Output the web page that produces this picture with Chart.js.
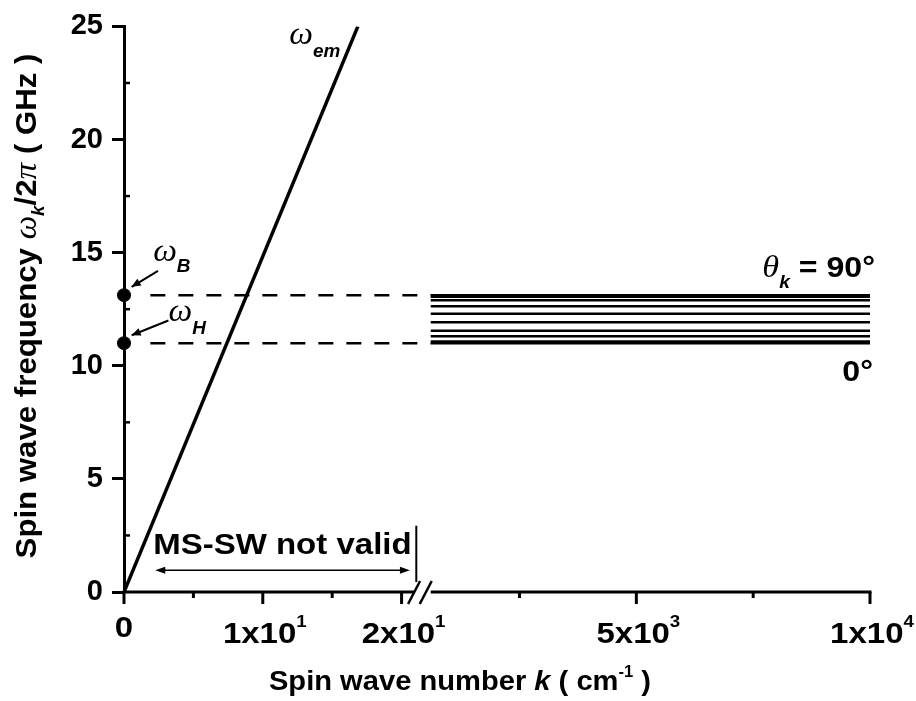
<!DOCTYPE html>
<html>
<head>
<meta charset="utf-8">
<script src="https://cdn.jsdelivr.net/npm/chart.js@4.4.1/dist/chart.umd.min.js"></script>
<style>
  html, body { margin: 0; padding: 0; background: #fff; }
  #wrap { width: 916px; height: 701px; }
</style>
</head>
<body>
<div id="wrap"><canvas id="chart" width="916" height="701"></canvas></div>
<script>
// ---- data ----
const emK = [0, 16.85];          // omega_em line, k (cm^-1)
const emF = [0, 25];             // GHz
const fB = 13.12;                // omega_B
const fH = 11.0;                 // omega_H
const guideK = [1.9, 600];       // dashed guides: start on left segment, end at right segment start
const bandK = [600, 10000];      // MS spin wave band, k range on right segment
const bandF = [11.0, 11.07, 11.3, 11.55, 11.92, 12.3, 12.63, 12.9, 13.05, 13.12]; // theta_k = 0..90 deg
const yTicks = [0, 5, 10, 15, 20, 25];
const yMinor = [2.5, 7.5, 12.5, 17.5, 22.5];
const xTicksLeft = [0, 10, 20];
const xLabelsLeft = [['0', ''], ['1x10', '1'], ['2x10', '1']];
const xMinorLeft = [5, 15];
const xTicksRight = [5000, 10000];
const xLabelsRight = [['5x10', '3'], ['1x10', '4']];
const xMinorRight = [2500, 7500];

// ---- broken x axis: left part linear in k, right part compressed ----
const LEFT_END = 20.9;
const RIGHT_START = 600;
const RIGHT_U0 = 22.1;
const RIGHT_SCALE = 0.003367;
const U_MAX = RIGHT_U0 + (10000 - RIGHT_START) * RIGHT_SCALE;
function toU(k, seg) {
  return seg === 'R' ? RIGHT_U0 + (k - RIGHT_START) * RIGHT_SCALE : k;
}

const SANS = '"Liberation Sans", Arial, sans-serif';
const SERIF = '"Liberation Serif", "Times New Roman", serif';
const B = s => 'bold ' + s + 'px ' + SANS;
const BI = s => 'italic bold ' + s + 'px ' + SANS;
const SI = s => 'italic ' + s + 'px ' + SERIF;

// draw a run of text pieces [text, font, dy]
function rich(ctx, parts, x, y, align, sx) {
  let w = 0;
  parts.forEach(p => { ctx.font = p[1]; w += ctx.measureText(p[0]).width; });
  let cx = align === 'center' ? -w / 2 : (align === 'right' ? -w : 0);
  ctx.save();
  ctx.translate(x, y);
  ctx.scale(sx || 1, 1);
  ctx.textAlign = 'left';
  ctx.textBaseline = 'alphabetic';
  ctx.fillStyle = '#000';
  parts.forEach(p => {
    ctx.font = p[1];
    ctx.fillText(p[0], cx, p[2] || 0);
    cx += ctx.measureText(p[0]).width;
  });
  ctx.restore();
}

function line(ctx, x1, y1, x2, y2, w) {
  ctx.lineWidth = w;
  ctx.beginPath(); ctx.moveTo(x1, y1); ctx.lineTo(x2, y2); ctx.stroke();
}

function head(ctx, x1, y1, x2, y2, len, half) {
  // arrow head at (x2,y2) pointing from (x1,y1)
  const a = Math.atan2(y2 - y1, x2 - x1);
  ctx.beginPath();
  ctx.moveTo(x2, y2);
  ctx.lineTo(x2 - len * Math.cos(a) + half * Math.sin(a), y2 - len * Math.sin(a) - half * Math.cos(a));
  ctx.lineTo(x2 - len * Math.cos(a) - half * Math.sin(a), y2 - len * Math.sin(a) + half * Math.cos(a));
  ctx.closePath();
  ctx.fill();
}

const decor = {
  id: 'decor',
  afterDraw(chart) {
    const ctx = chart.ctx, xs = chart.scales.x, ys = chart.scales.y;
    const area = chart.chartArea;
    const px = (k, seg) => xs.getPixelForValue(toU(k, seg));
    const py = f => ys.getPixelForValue(f);
    const y0 = area.bottom;
    ctx.save();
    ctx.strokeStyle = '#000';
    ctx.fillStyle = '#000';
    ctx.lineCap = 'butt';

    // x axis with break
    const lx = px(LEFT_END, 'L'), rx = px(RIGHT_START, 'R');
    line(ctx, area.left - 1.5, y0, lx, y0, 3);
    line(ctx, rx, y0, area.right + 1.5, y0, 3);
    line(ctx, lx - 6, y0 + 12, lx + 6, y0 - 11, 2.5);
    line(ctx, rx - 11, y0 + 12, rx + 1, y0 - 11, 2.5);

    // x ticks
    xTicksLeft.forEach(k => line(ctx, px(k, 'L'), y0, px(k, 'L'), y0 + 12, 3));
    xTicksRight.forEach(k => line(ctx, px(k, 'R'), y0, px(k, 'R'), y0 + 12, 3));
    xMinorLeft.forEach(k => line(ctx, px(k, 'L'), y0, px(k, 'L'), y0 + 6, 3));
    xMinorRight.forEach(k => line(ctx, px(k, 'R'), y0, px(k, 'R'), y0 + 6, 3));

    // y minor ticks (inside)
    yMinor.forEach(f => line(ctx, area.left, py(f), area.left + 6, py(f), 2.5));

    // x tick labels with superscripts
    const xLab = (x, lab) => {
      if (lab[1]) rich(ctx, [[lab[0], B(30)], [lab[1], B(17), -16]], x + 2, y0 + 51, 'center', 1.1);
      else rich(ctx, [[lab[0], B(30)]], x, y0 + 45, 'center', 1.1);
    };
    xTicksLeft.forEach((k, i) => xLab(px(k, 'L'), xLabelsLeft[i]));
    xTicksRight.forEach((k, i) => xLab(px(k, 'R'), xLabelsRight[i]));

    // axis titles
    rich(ctx, [['Spin wave number ', B(28)], ['k', BI(28)], [' ( cm', B(28)], ['-1', B(16), -13], [' )', B(28)]],
      460, 690, 'center', 1.04);
    ctx.save();
    ctx.translate(36, 306);
    ctx.rotate(-Math.PI / 2);
    rich(ctx, [['Spin wave frequency ', B(30)], ['\u03c9', SI(32)], ['k', BI(18), 8], ['/2', B(30)],
      ['\u03c0', SI(32)], [' ( GHz )', B(30)]], 0, 0, 'center', 1.04);
    ctx.restore();

    // curve labels
    rich(ctx, [['\u03c9', SI(32)], ['em', BI(18), 13]], px(11.9, 'L'), py(24.24), 'left', 1.05);
    rich(ctx, [['\u03c9', SI(32)], ['B', BI(18), 11]], px(2.1, 'L'), py(14.63), 'left', 1.05);
    rich(ctx, [['\u03c9', SI(32)], ['H', BI(18), 13]], px(3.2, 'L'), py(11.97), 'left', 1.05);
    rich(ctx, [['\u03b8', SI(32)], ['k', BI(18), 11], [' = 90\u00b0', B(30)]], area.right + 5, py(13.93), 'right', 1.07);
    rich(ctx, [['0\u00b0', B(30)]], area.right + 3, py(9.34), 'right', 1.07);

    // pointer arrows to omega_B / omega_H dots
    const arrows = [[2.45, 14.19, 0.55, 13.49], [3.2, 12.0, 0.55, 11.35]];
    arrows.forEach(a => {
      const x1 = px(a[0], 'L'), y1 = py(a[1]), x2 = px(a[2], 'L'), y2 = py(a[3]);
      line(ctx, x1, y1, x2, y2, 2);
      head(ctx, x1, y1, x2, y2, 9, 4);
    });

    // MS-SW not valid
    rich(ctx, [['MS-SW not valid', B(30)]], px(2.1, 'L'), py(1.7), 'left', 1.1);
    const ay = py(0.96), ax1 = px(2.25, 'L'), ax2 = px(20.6, 'L');
    line(ctx, ax1 + 4, ay, ax2 - 4, ay, 1.5);
    head(ctx, ax2, ay, ax1, ay, 10, 3.5);
    head(ctx, ax1, ay, ax2, ay, 10, 3.5);
    line(ctx, px(21.06, 'L'), py(2.93), px(21.06, 'L'), py(0.44), 2);

    ctx.restore();
  }
};

const black = '#000';
const datasets = [];
datasets.push({
  data: emK.map((k, i) => ({ x: toU(k, 'L'), y: emF[i] })),
  borderColor: black, borderWidth: 3.5, pointRadius: 0
});
[fB, fH].forEach(f => datasets.push({
  data: [{ x: toU(guideK[0], 'L'), y: f }, { x: toU(guideK[1], 'R'), y: f }],
  borderColor: black, borderWidth: 2.5, borderDash: [15, 13], pointRadius: 0
}));
bandF.forEach(f => datasets.push({
  data: bandK.map(k => ({ x: toU(k, 'R'), y: f })),
  borderColor: black, borderWidth: 2.5, pointRadius: 0
}));
datasets.push({
  data: [{ x: 0, y: fB }, { x: 0, y: fH }],
  showLine: false, pointRadius: 7, pointBackgroundColor: black, pointBorderColor: black,
  pointBorderWidth: 0, clip: false
});

new Chart(document.getElementById('chart'), {
  type: 'line',
  data: { datasets: datasets },
  options: {
    responsive: false,
    animation: false,
    layout: { padding: { left: 0, top: 19, right: 46, bottom: 0 } },
    plugins: { legend: { display: false }, tooltip: { enabled: false } },
    elements: { line: { tension: 0, borderCapStyle: 'butt' } },
    scales: {
      x: {
        type: 'linear', min: 0, max: U_MAX,
        ticks: { display: false },
        grid: { display: false },
        border: { display: false },
        afterFit: s => { s.height = 109; }
      },
      y: {
        min: 0, max: 25,
        afterBuildTicks: s => { s.ticks = yTicks.map(v => ({ value: v })); },
        ticks: { color: black, padding: 9, font: { family: SANS, size: 29, weight: 'bold' } },
        grid: { drawOnChartArea: false, drawTicks: true, tickLength: 12, tickWidth: 3, tickColor: black },
        border: { display: true, color: black, width: 3 },
        afterFit: s => { s.width = 124; }
      }
    }
  },
  plugins: [decor]
});
</script>
</body>
</html>
